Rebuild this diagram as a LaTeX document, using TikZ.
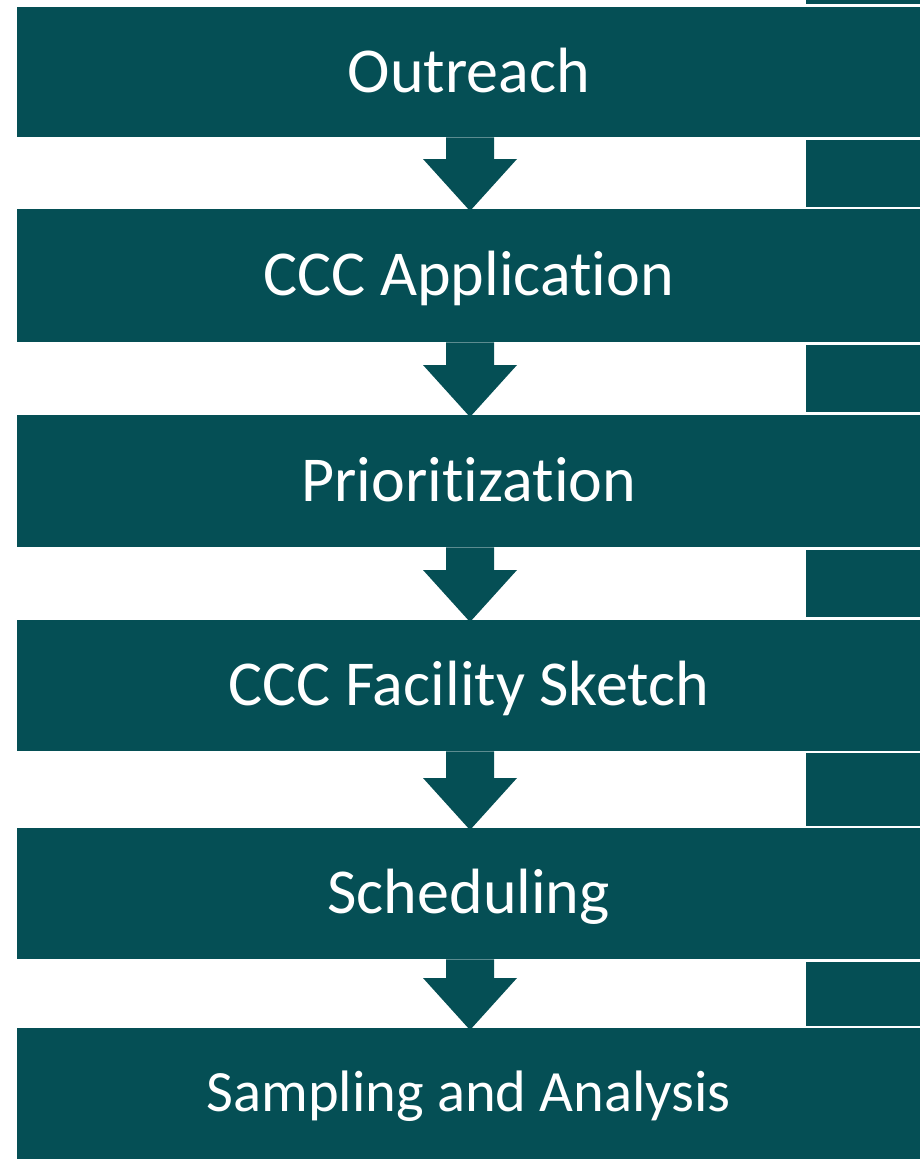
\documentclass[tikz,border=0pt]{standalone}
\usepackage{fontspec}
\setmainfont[RawFeature={-liga}]{Carlito}
\usetikzlibrary{calc}
\definecolor{teal1}{RGB}{5,79,85}
\tikzset{
  stepbox/.style={fill=teal1, draw=none, text=white, minimum width=903pt, inner sep=0pt,
    font=\fontsize{64}{70}\selectfont, anchor=north west, text height=48pt, text depth=8pt},
  sidebox/.style={fill=teal1, draw=none},
}
\begin{document}
\begin{tikzpicture}[x=1pt,y=-1pt]
\useasboundingbox (0,0) rectangle (920,1159);
% side column
\fill[sidebox] (806,-2) rectangle (920,4);
\fill[sidebox] (806,140) rectangle (920,207);
\fill[sidebox] (806,345) rectangle (920,412);
\fill[sidebox] (806,550) rectangle (920,617);
\fill[sidebox] (806,753) rectangle (920,826);
\fill[sidebox] (806,962) rectangle (920,1026);
% boxes
\node[stepbox, minimum height=130pt] (b1) at (17,7) {Outreach};
\node[stepbox, minimum height=133pt] (b2) at (17,209) {CCC Application};
\node[stepbox, minimum height=132pt] (b3) at (17,415) {Prioritization};
\node[stepbox, minimum height=131pt] (b4) at (17,620) {CCC Facility Sketch};
\node[stepbox, minimum height=131pt] (b5) at (17,828) {Scheduling};
\node[stepbox, minimum height=135pt, text depth=17pt, font=\fontsize{58.5}{64}\selectfont] (b6) at (17,1028) {Sampling and Analysis};
% arrows
\foreach \a/\b in {b1/b2,b2/b3,b3/b4,b4/b5,b5/b6}{
  \fill[teal1] let \p1=(\a.south), \p2=(\b.north) in
    (470-24,\y1) -- (470+24,\y1) -- (470+24,\y2+50) -- (470+47,\y2+50)
    -- (470,\y2-2) -- (470-47,\y2+50) -- (470-24,\y2+50) -- cycle;
}
\end{tikzpicture}
\end{document}
